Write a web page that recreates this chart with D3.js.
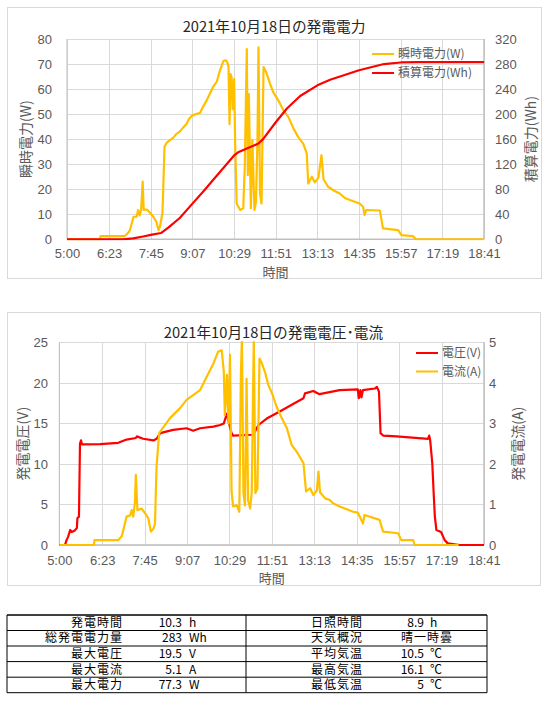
<!DOCTYPE html>
<html>
<head>
<meta charset="utf-8">
<script src="https://cdn.jsdelivr.net/npm/d3@7"></script>
<style>
body { margin: 0; background: #fff; }
svg text { font-family: "Noto Sans CJK JP", "Noto Sans", sans-serif; }
</style>
</head>
<body>
<svg id="page" width="546" height="704"></svg>
<script>
// x axis labels (time of day)
var timeLabels = ["5:00", "6:23", "7:45", "9:07", "10:29", "11:51", "13:13", "14:35", "15:57", "17:19", "18:41"];

// 瞬時電力 (W)
var powerTimes = ["5:00", "6:05", "6:06", "6:54", "7:00", "7:04", "7:11", "7:17", "7:20", "7:23", "7:26", "7:29", "7:31", "7:37", "7:44", "7:50", "7:56", "8:00", "8:03", "8:08", "8:12", "8:16", "8:22", "8:29", "8:35", "8:42", "8:48", "8:55", "9:00", "9:07", "9:14", "9:22", "9:28", "9:35", "9:41", "9:48", "9:55", "10:01", "10:08", "10:13", "10:16", "10:18", "10:20", "10:22", "10:24", "10:26", "10:29", "10:31", "10:34", "10:41", "10:47", "10:50", "10:54", "10:56", "10:58", "11:02", "11:05", "11:09", "11:12", "11:15", "11:17", "11:20", "11:23", "11:27", "11:32", "11:40", "11:46", "11:56", "12:06", "12:16", "12:26", "12:35", "12:45", "12:52", "12:55", "13:02", "13:08", "13:15", "13:21", "13:25", "13:34", "13:45", "13:57", "14:07", "14:17", "14:36", "14:43", "14:46", "14:49", "15:16", "15:19", "15:22", "15:52", "15:58", "16:21", "16:27", "18:41"];
var powerValues = [0, 0, 1.3, 1.3, 2.5, 3.7, 9, 9, 11.7, 9.5, 12, 23, 11.7, 11.9, 10.5, 9, 7, 3.7, 5, 10.6, 37, 38.5, 39.5, 40.5, 42, 43, 44.5, 46, 48, 49.5, 50, 50.5, 53, 55.5, 58, 61, 63, 67.4, 71.2, 71.5, 70.5, 68.8, 46, 66, 64.8, 52, 64, 39.6, 14.3, 11.7, 12.4, 29, 76, 25.6, 58, 12.4, 39.6, 11.7, 14.9, 39.6, 76.7, 18.3, 14.3, 68.8, 66.8, 62, 58.8, 55.5, 51.5, 48.8, 44.2, 40.9, 38.2, 34.3, 22.3, 25, 22.7, 24.6, 33.6, 24, 21, 19.5, 18.3, 16.5, 15.7, 14.3, 13, 9.7, 11.7, 11.5, 8, 4.4, 3.7, 1.7, 1.3, 0, 0];

// 積算電力 (Wh)
var energyTimes = ["5:00", "6:50", "7:10", "7:30", "7:45", "8:05", "8:20", "8:42", "9:07", "9:30", "9:48", "10:10", "10:29", "10:37", "10:54", "11:17", "11:26", "11:51", "12:13", "12:39", "13:13", "13:38", "14:35", "15:24", "15:57", "16:30", "18:41"];
var energyValues = [0, 0, 1.5, 4.5, 7, 10, 19, 34, 57, 78, 95, 116, 134, 139, 145, 153, 160, 187, 209, 229, 246, 255, 270, 280, 282.5, 283, 283];

// 電圧 (V)
var voltTimes = ["5:00", "5:11", "5:14", "5:17", "5:21", "5:24", "5:30", "5:34", "5:35", "5:38", "5:40", "5:42", "5:44", "6:19", "6:54", "7:10", "7:28", "7:30", "7:42", "8:02", "8:08", "8:15", "8:40", "9:06", "9:19", "9:32", "9:58", "10:11", "10:18", "10:24", "10:27", "10:33", "10:36", "11:15", "11:25", "11:41", "12:07", "12:32", "12:52", "12:55", "13:11", "13:23", "14:02", "14:37", "14:39", "14:42", "14:44", "14:47", "15:10", "15:14", "15:18", "15:21", "15:26", "15:52", "16:53", "16:55", "16:57", "17:01", "17:04", "17:06", "17:09", "17:18", "17:25", "17:31", "17:54", "18:41"];
var voltValues = [0, 0, 0.6, 1.0, 1.85, 1.6, 1.8, 2.1, 3.3, 3.5, 12.5, 12.9, 12.4, 12.45, 12.6, 13.0, 13.2, 13.4, 13.1, 12.9, 13.1, 13.8, 14.2, 14.4, 14.1, 14.4, 14.6, 14.8, 15.0, 16.2, 15.3, 13.8, 13.5, 13.6, 14.8, 15.6, 16.5, 17.4, 18.1, 18.7, 19.0, 18.6, 19.1, 19.2, 18.1, 19.1, 18.2, 19.1, 19.3, 19.5, 18.9, 13.8, 13.5, 13.4, 13.1, 13.5, 12.9, 10.1, 6.0, 3.5, 1.85, 1.6, 0.6, 0.2, 0, 0];

// 電流 (A)
var ampTimes = ["5:00", "6:07", "6:08", "6:54", "7:01", "7:10", "7:17", "7:20", "7:23", "7:26", "7:28", "7:31", "7:39", "7:46", "7:52", "7:57", "8:02", "8:05", "8:08", "8:13", "8:21", "8:34", "8:53", "9:06", "9:32", "9:45", "9:58", "10:07", "10:14", "10:18", "10:20", "10:24", "10:27", "10:30", "10:33", "10:36", "10:43", "10:48", "10:51", "10:53", "10:56", "10:59", "11:02", "11:05", "11:09", "11:12", "11:16", "11:19", "11:23", "11:27", "11:31", "11:38", "11:44", "11:51", "12:00", "12:10", "12:20", "12:29", "12:39", "12:52", "12:57", "13:05", "13:11", "13:18", "13:21", "13:24", "13:34", "13:43", "13:49", "14:02", "14:28", "14:37", "14:47", "14:50", "15:19", "15:26", "15:55", "16:01", "16:24", "16:27", "17:52"];
var ampValues = [0, 0, 0.12, 0.12, 0.22, 0.7, 0.73, 0.86, 0.7, 1.03, 1.73, 0.86, 0.9, 0.78, 0.66, 0.33, 0.4, 0.53, 1.93, 2.76, 2.9, 3.13, 3.37, 3.58, 3.82, 4.15, 4.48, 4.77, 4.8, 4.28, 3.2, 4.2, 3.0, 4.69, 1.32, 0.95, 0.98, 0.82, 4.2, 5.1, 1.28, 0.98, 4.1, 1.1, 0.9, 1.3, 5.1, 1.28, 1.4, 4.6, 4.5, 4.25, 3.95, 3.75, 3.41, 3.13, 2.88, 2.47, 2.3, 2.02, 1.32, 1.4, 1.23, 1.35, 1.81, 1.3, 1.15, 1.11, 1.03, 0.95, 0.82, 0.8, 0.53, 0.74, 0.62, 0.33, 0.29, 0.12, 0.12, 0, 0];

// summary table
var leftNames = ["発電時間", "総発電電力量", "最大電圧", "最大電流", "最大電力"];
var leftNums = ["10.3", "283", "19.5", "5.1", "77.3"];
var leftUnits = ["h", "Wh", "V", "A", "W"];
var rightNames = ["日照時間", "天気概況", "平均気温", "最高気温", "最低気温"];
var rightNums = ["8.9", "", "10.5", "16.1", "5"];
var rightUnits = ["h", "", "℃", "℃", "℃"];
var weatherText = "晴一時曇";

function toMinutes(s) {
    var p = s.split(":");
    return +p[0] * 60 + +p[1];
}

function zipSeries(times, values) {
    return times.map(function(t, i) { return { t: toMinutes(t), v: values[i] }; });
}

var svg = d3.select("#page");

function drawChart(o) {
    var g = svg.append("g");

    // chart frame
    g.append("rect")
        .attr("x", o.frame[0] + 0.5).attr("y", o.frame[1] + 0.5)
        .attr("width", o.frame[2]).attr("height", o.frame[3])
        .attr("fill", "#fff").attr("stroke", "#d9d9d9");

    var x = d3.scaleLinear()
        .domain([toMinutes(timeLabels[0]), toMinutes(timeLabels[timeLabels.length - 1])])
        .range([o.left, o.right]);
    var yL = d3.scaleLinear().domain([0, o.leftMax]).range([o.bottom, o.top]);
    var yR = d3.scaleLinear().domain([0, o.rightMax]).range([o.bottom, o.top]);
    var leftTicks = d3.range(0, o.leftMax + 0.001, o.leftStep);
    var rightTicks = d3.range(0, o.rightMax + 0.001, o.rightStep);

    // gridlines
    g.append("g").selectAll("line")
        .data(leftTicks)
        .enter().append("line")
        .attr("x1", o.left).attr("x2", o.right)
        .attr("y1", function(d) { return Math.round(yL(d)) + 0.5; })
        .attr("y2", function(d) { return Math.round(yL(d)) + 0.5; })
        .attr("stroke", "#d9d9d9");
    g.append("g").selectAll("line")
        .data(timeLabels)
        .enter().append("line")
        .attr("x1", function(d) { return Math.round(x(toMinutes(d))) + 0.5; })
        .attr("x2", function(d) { return Math.round(x(toMinutes(d))) + 0.5; })
        .attr("y1", o.top).attr("y2", o.bottom)
        .attr("stroke", "#d9d9d9");

    // axis lines
    g.append("line").attr("x1", o.left).attr("x2", o.right)
        .attr("y1", o.bottom).attr("y2", o.bottom)
        .attr("stroke", "#bfbfbf").attr("stroke-width", 1.5);
    g.append("line").attr("x1", o.left).attr("x2", o.left)
        .attr("y1", o.top).attr("y2", o.bottom)
        .attr("stroke", "#bfbfbf");
    g.append("line").attr("x1", o.right).attr("x2", o.right)
        .attr("y1", o.top).attr("y2", o.bottom)
        .attr("stroke", "#bfbfbf").attr("stroke-width", 1.5);

    // tick labels
    var fmt = d3.format("~g");
    var axisL = d3.axisLeft(yL).tickValues(leftTicks).tickFormat(fmt).tickSize(0).tickPadding(0);
    var axisR = d3.axisRight(yR).tickValues(rightTicks).tickFormat(fmt).tickSize(0).tickPadding(0);
    var axisB = d3.axisBottom(x).tickValues(timeLabels.map(toMinutes))
        .tickFormat(function(d, i) { return timeLabels[i]; }).tickSize(0).tickPadding(0);

    var gl = g.append("g").attr("transform", "translate(" + o.leftLabelX + ",0)").call(axisL);
    var gr = g.append("g").attr("transform", "translate(" + o.rightLabelX + ",0)").call(axisR);
    var gb = g.append("g").attr("transform", "translate(0," + o.bottomLabelY + ")").call(axisB);
    [gl, gr, gb].forEach(function(a) {
        a.select(".domain").remove();
        a.selectAll("text")
            .attr("fill", "#595959")
            .style("font-size", "13px")
            .style("font-family", '"Liberation Sans", Arial, sans-serif');
    });
    gb.selectAll("text").attr("dy", "0.35em").attr("y", 0);

    // series
    var clipId = "clip" + o.id;
    g.append("clipPath").attr("id", clipId)
        .append("rect")
        .attr("x", o.left).attr("y", o.top - 1)
        .attr("width", o.right - o.left).attr("height", o.bottom - o.top + 2);

    var plot = g.append("g").attr("clip-path", "url(#" + clipId + ")");
    o.series.forEach(function(s) {
        var yy = s.axis === "left" ? yL : yR;
        var line = d3.line()
            .x(function(d) { return x(d.t); })
            .y(function(d) { return yy(d.v); });
        plot.append("path")
            .datum(s.data)
            .attr("d", line)
            .attr("fill", "none")
            .attr("stroke", s.color)
            .attr("stroke-width", 2.2)
            .attr("stroke-linejoin", "round");
    });

    // title
    g.append("text")
        .attr("x", (o.frame[0] + o.frame[0] + o.frame[2]) / 2)
        .attr("y", o.titleY)
        .attr("dy", "0.35em")
        .attr("text-anchor", "middle")
        .attr("fill", "#262626")
        .style("font-size", "14.7px")
        .text(o.title);

    // axis titles
    g.append("text")
        .attr("transform", "translate(" + o.leftTitleX + "," + ((o.top + o.bottom) / 2) + ") rotate(-90)")
        .attr("dy", "0.35em")
        .attr("text-anchor", "middle")
        .attr("fill", "#595959")
        .style("font-size", "14px")
        .text(o.leftTitle);
    g.append("text")
        .attr("transform", "translate(" + o.rightTitleX + "," + ((o.top + o.bottom) / 2) + ") rotate(-90)")
        .attr("dy", "0.35em")
        .attr("text-anchor", "middle")
        .attr("fill", "#595959")
        .style("font-size", "14px")
        .text(o.rightTitle);
    g.append("text")
        .attr("x", (o.left + o.right) / 2)
        .attr("y", o.xTitleBase)
        .attr("text-anchor", "middle")
        .attr("fill", "#595959")
        .style("font-size", "13px")
        .text("時間");

    // legend
    o.legend.forEach(function(item, i) {
        var ly = o.legendY + i * o.legendStep;
        g.append("line")
            .attr("x1", o.legendX).attr("x2", o.legendX + 22)
            .attr("y1", ly).attr("y2", ly)
            .attr("stroke", item.color).attr("stroke-width", 2);
        g.append("text")
            .attr("x", o.legendX + 26).attr("y", ly)
            .attr("dy", "0.35em")
            .attr("fill", "#595959")
            .style("font-size", "12px")
            .text(item.label);
    });
}

drawChart({
    id: "power",
    frame: [7, 7, 534, 271],
    left: 67, right: 484, top: 39, bottom: 239.3,
    leftMax: 80, leftStep: 10, rightMax: 320, rightStep: 40,
    leftLabelX: 52, rightLabelX: 495, bottomLabelY: 253.8,
    title: "2021年10月18日の発電電力", titleY: 27,
    leftTitle: "瞬時電力(W)", leftTitleX: 26,
    rightTitle: "積算電力(Wh)", rightTitleX: 531,
    xTitleBase: 276.5,
    legendX: 372, legendY: 54, legendStep: 19,
    legend: [{ label: "瞬時電力(W)", color: "#ffc000" }, { label: "積算電力(Wh)", color: "#ff0000" }],
    series: [
        { data: zipSeries(powerTimes, powerValues), axis: "left", color: "#ffc000" },
        { data: zipSeries(energyTimes, energyValues), axis: "right", color: "#ff0000" }
    ]
});

drawChart({
    id: "volt",
    frame: [7, 312, 533, 273],
    left: 59.3, right: 484, top: 342.3, bottom: 545,
    leftMax: 25, leftStep: 5, rightMax: 5, rightStep: 1,
    leftLabelX: 48, rightLabelX: 489, bottomLabelY: 560.5,
    title: "2021年10月18日の発電電圧･電流", titleY: 333,
    leftTitle: "発電電圧(V)", leftTitleX: 23,
    rightTitle: "発電電流(A)", rightTitleX: 518,
    xTitleBase: 583,
    legendX: 416, legendY: 353, legendStep: 18.5,
    legend: [{ label: "電圧(V)", color: "#ff0000" }, { label: "電流(A)", color: "#ffc000" }],
    series: [
        { data: zipSeries(voltTimes, voltValues), axis: "left", color: "#ff0000" },
        { data: zipSeries(ampTimes, ampValues), axis: "right", color: "#ffc000" }
    ]
});

// summary table
var rowTops = [615, 630.5, 646, 661.6, 677.2, 692.7];
var latin = '"Liberation Sans", Arial, "Noto Sans CJK JP", sans-serif';
var table = svg.append("g").attr("fill", "#000")
    .style("font-size", "12px").style("font-family", latin);
rowTops.forEach(function(y, i) {
    table.append("line")
        .attr("x1", 7).attr("x2", 487)
        .attr("y1", y).attr("y2", y)
        .attr("stroke", "#000").attr("stroke-width", i === 0 ? 1.3 : 1);
});
[7, 246, 487].forEach(function(xv) {
    table.append("line")
        .attr("x1", xv).attr("x2", xv)
        .attr("y1", rowTops[0]).attr("y2", rowTops[rowTops.length - 1])
        .attr("stroke", "#000");
});

leftNames.forEach(function(name, i) {
    var cy = (rowTops[i] + rowTops[i + 1]) / 2;
    table.append("text").attr("x", 123).attr("y", cy).attr("dy", "0.35em")
        .attr("text-anchor", "end").style("letter-spacing", "1px").text(name);
    table.append("text").attr("x", 182).attr("y", cy).attr("dy", "0.35em")
        .attr("text-anchor", "end").text(leftNums[i]);
    table.append("text").attr("x", 189).attr("y", cy).attr("dy", "0.35em")
        .text(leftUnits[i]);
});
rightNames.forEach(function(name, i) {
    var cy = (rowTops[i] + rowTops[i + 1]) / 2;
    table.append("text").attr("x", 363).attr("y", cy).attr("dy", "0.35em")
        .attr("text-anchor", "end").style("letter-spacing", "1px").text(name);
    if (rightNums[i] === "") {
        table.append("text").attr("x", 427).attr("y", cy).attr("dy", "0.35em")
            .attr("text-anchor", "middle").style("letter-spacing", "1px").text(weatherText);
    } else {
        table.append("text").attr("x", 424).attr("y", cy).attr("dy", "0.35em")
            .attr("text-anchor", "end").text(rightNums[i]);
        table.append("text").attr("x", 430).attr("y", cy).attr("dy", "0.35em")
            .text(rightUnits[i]);
    }
});
</script>
</body>
</html>
